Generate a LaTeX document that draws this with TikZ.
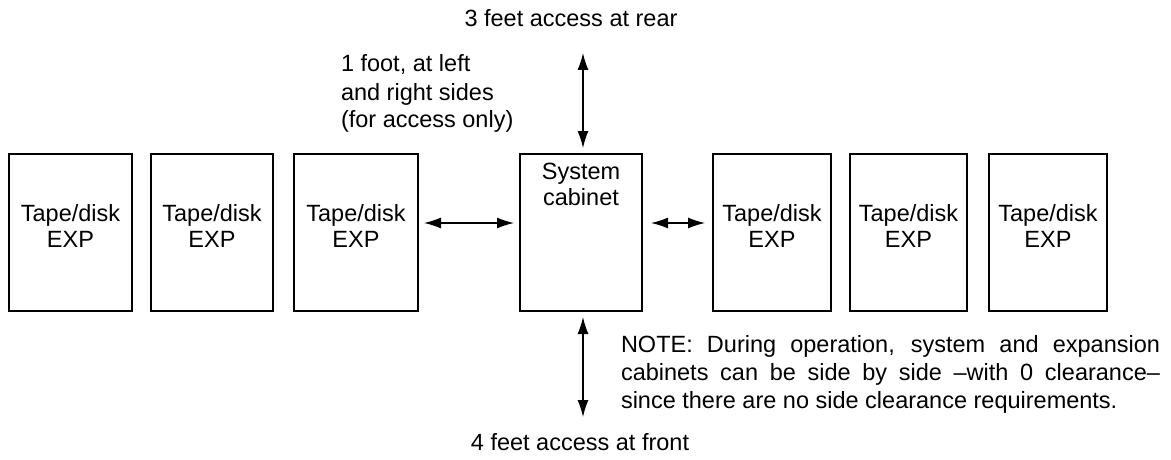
\documentclass[tikz,border=0pt]{standalone}
\usepackage{fontspec}
\setmainfont{Liberation Sans}
\usetikzlibrary{arrows.meta}
\begin{document}
\begin{tikzpicture}[x=1pt,y=-1pt,
  cab/.style={draw,line width=2.5pt,minimum height=157pt,inner sep=0pt,outer sep=0pt},
  lbl/.style={inner sep=0pt,outer sep=0pt,align=center,font=\fontsize{23.5}{26}\selectfont},
  txt/.style={inner sep=0pt,outer sep=0pt,font=\fontsize{23.5}{28}\selectfont},
  acc/.style={line width=1.3pt,{Latex[length=17pt,width=11pt]}-{Latex[length=17pt,width=11pt]}}]
\useasboundingbox (0,0) rectangle (1171,460);
% cabinets
\node[cab,minimum width=123pt] (b1) at (70.5,232.5) {};
\node[cab,minimum width=122pt] (b2) at (212,232.5) {};
\node[cab,minimum width=124pt] (b3) at (356,232.5) {};
\node[cab,minimum width=122pt] (sys) at (581,232.5) {};
\node[cab,minimum width=118pt] (b4) at (772,232.5) {};
\node[cab,minimum width=117pt] (b5) at (908.5,232.5) {};
\node[cab,minimum width=118pt] (b6) at (1048,232.5) {};
% labels
\node[lbl] (l1) at (70.5,226) {Tape/disk\\EXP};
\node[lbl] (l2) at (212,226) {Tape/disk\\EXP};
\node[lbl] (l3) at (356,226) {Tape/disk\\EXP};
\node[lbl,anchor=north] (ls) at (581,163) {System\\cabinet};
\node[lbl] (l4) at (772,226) {Tape/disk\\EXP};
\node[lbl] (l5) at (908.5,226) {Tape/disk\\EXP};
\node[lbl] (l6) at (1048,226) {Tape/disk\\EXP};
% annotations
\node[txt,anchor=base] (rear) at (571,27) {3 feet access at rear};
\node[txt,anchor=base] (front) at (580,450) {4 feet access at front};
\node[txt,anchor=base west,align=left] (side) at (341,128) {1 foot, at left\\and right sides\\(for access only)};
\node[txt,anchor=base west,text width=539pt,align=justify] (note) at (621,352)
  {NOTE: During operation, system and expansion\linebreak cabinets can be side by side –with 0 clearance–\linebreak since there are no side clearance requirements.};
% arrows
\coordinate (rtop) at (583,53);
\coordinate (fbot) at (583,417);
\draw[acc] ([xshift=6pt,yshift=9.5pt]b3.east) -- ([xshift=-6pt,yshift=9.5pt]sys.west);
\draw[acc] ([xshift=9pt,yshift=9.5pt]sys.east) -- ([xshift=-8pt,yshift=9.5pt]b4.west);
\draw[acc] (rtop) -- ([xshift=2pt,yshift=6pt]sys.north);
\draw[acc] ([xshift=2pt,yshift=-6pt]sys.south) -- (fbot);
\end{tikzpicture}
\end{document}
